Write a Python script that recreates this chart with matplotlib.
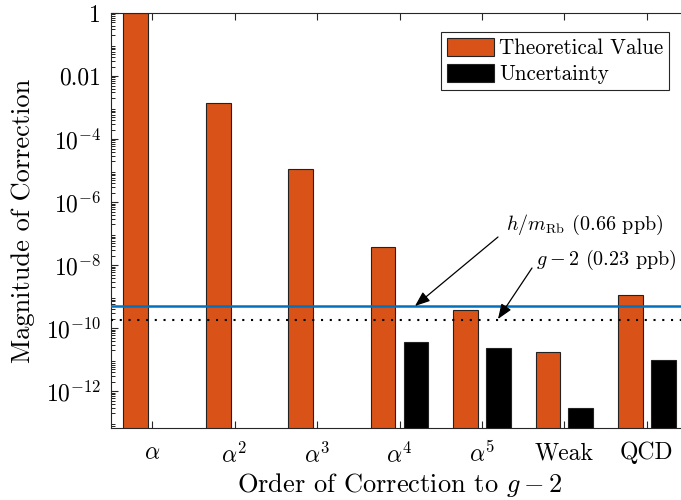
import matplotlib
matplotlib.use("Agg")
import matplotlib.pyplot as plt
import numpy as np

plt.rcParams['font.family'] = 'serif'
plt.rcParams['font.serif'] = ['cmr10']
plt.rcParams['mathtext.fontset'] = 'cm'
plt.rcParams['axes.unicode_minus'] = False
plt.rcParams['axes.formatter.use_mathtext'] = True

categories = [r'$\alpha$', r'$\alpha^2$', r'$\alpha^3$', r'$\alpha^4$', r'$\alpha^5$', 'Weak', 'QCD']
theory = [1.0, 1.4e-3, 1.1e-5, 3.8e-8, 3.7e-10, 1.8e-11, 1.1e-9]
uncert = [np.nan, np.nan, np.nan, 3.7e-11, 2.4e-11, 3.0e-13, 9.4e-12]
hm_line = 4.9e-10
g2_line = 1.8e-10
ytick_vals = [1, 1e-2, 1e-4, 1e-6, 1e-8, 1e-10, 1e-12]
ytick_labels = ['1', '0.01', r'$10^{-4}$', r'$10^{-6}$', r'$10^{-8}$', r'$10^{-10}$', r'$10^{-12}$']

fig = plt.figure(figsize=(6.81, 5.00), dpi=100)
ax = fig.add_axes([111/681, 1-428/500, (688-111)/681, (428-13)/500])

x = np.arange(1, len(categories)+1)
ax.bar(x-0.2, theory, width=0.3, color='#D95319', edgecolor='#222222', linewidth=0.8,
       label='Theoretical Value', zorder=2)
ax.bar(x+0.2, uncert, width=0.3, color='black', edgecolor='#222222', linewidth=0.8,
       label='Uncertainty', zorder=2)
ax.axhline(hm_line, color='#0072BD', linewidth=1.8, zorder=3)
ax.axhline(g2_line, color='black', linewidth=1.5, linestyle=(0, (1, 3.2)), zorder=3)

ax.set_yscale('log')
ax.set_ylim(10**-13.17, 1)
ax.set_xlim(0.5, 7.5)
ax.set_yticks(ytick_vals)
ax.set_yticklabels(ytick_labels)
ax.set_xticks(x)
ax.set_xticklabels(categories)
ax.tick_params(axis='both', direction='in', top=True, right=True, labelsize=17,
               color='#262626', length=5, width=0.8)
ax.tick_params(axis='y', which='minor', direction='in', right=True, length=3, width=0.6)
ax.tick_params(axis='x', pad=10)
ax.tick_params(axis='y', pad=7)
ax.yaxis.set_minor_locator(matplotlib.ticker.LogLocator(base=10, subs=np.arange(2, 10), numticks=100))
ax.yaxis.set_minor_formatter(matplotlib.ticker.NullFormatter())
for s in ax.spines.values():
    s.set_color('#262626')
    s.set_linewidth(0.8)

ax.set_ylabel('Magnitude of Correction', fontsize=19, labelpad=8)
ax.set_xlabel(r'Order of Correction to $g-2$', fontsize=19, labelpad=3)

leg = ax.legend(loc='upper right', bbox_to_anchor=((669-111)/(688-111), (428-32)/(428-13)),
                fontsize=15.2, fancybox=False, edgecolor='#262626', framealpha=1,
                handlelength=2.2, handleheight=0.96, borderpad=0.28, labelspacing=0.25,
                handletextpad=0.25, borderaxespad=0)
leg.get_frame().set_linewidth(0.8)

def px(xp, yp):
    return (xp/681, 1-yp/500)

ax.annotate('', xy=px(415, 306), xytext=px(498, 237), xycoords='figure fraction',
            textcoords='figure fraction',
            arrowprops=dict(arrowstyle='-|>,head_length=0.9,head_width=0.35', color='black', lw=0.9,
                            shrinkA=0, shrinkB=0))
ax.annotate('', xy=px(498, 319), xytext=px(532, 268), xycoords='figure fraction',
            textcoords='figure fraction',
            arrowprops=dict(arrowstyle='-|>,head_length=0.9,head_width=0.35', color='black', lw=0.9,
                            shrinkA=0, shrinkB=0))
fig.text(*px(584.5, 225), r'$h/m_{\mathrm{Rb}}$ (0.66 ppb)', fontsize=14.5, ha='center', va='center')
fig.text(*px(606.5, 260), r'$g-2$ (0.23 ppb)', fontsize=14.5, ha='center', va='center')

fig.savefig('out.png', dpi=100)
